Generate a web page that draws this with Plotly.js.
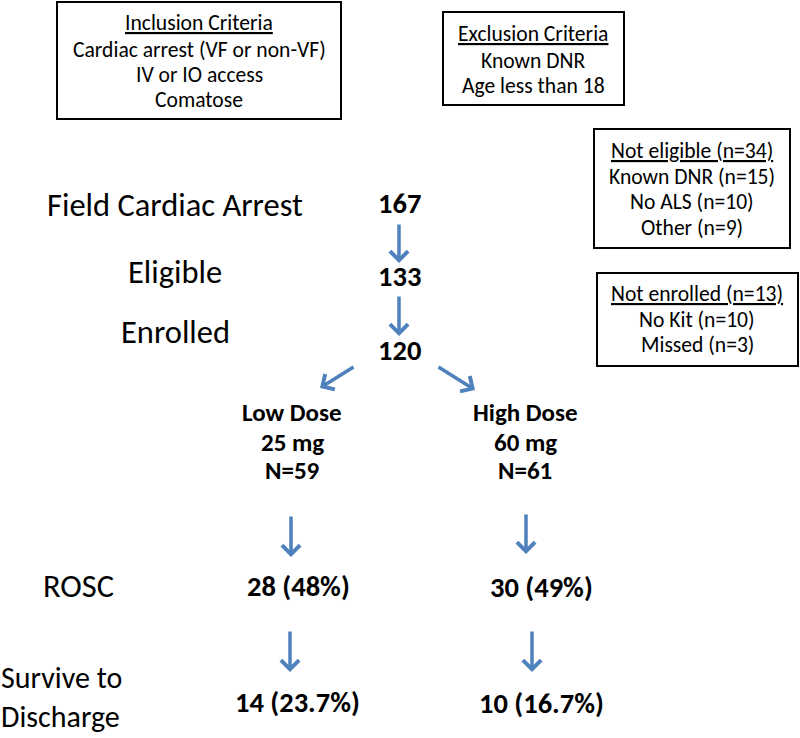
<!DOCTYPE html>
<html>
<head>
<meta charset="utf-8">
<script src="https://cdn.plot.ly/plotly-3.0.1.min.js"></script>
<style>html,body{margin:0;padding:0;background:#fff;}#chart{width:800px;height:738px;}</style>
</head>
<body>
<div id="chart"></div>
<script>
// ---------- data ----------
const inclusionTitle = "Inclusion Criteria";
const inclusionItems = ["Cardiac arrest (VF or non-VF)", "IV or IO access", "Comatose"];
const exclusionTitle = "Exclusion Criteria";
const exclusionItems = ["Known DNR", "Age less than 18"];
const notEligibleTotal = 34;
const notEligibleReasons = ["Known DNR", "No ALS", "Other"];
const notEligibleCounts = [15, 10, 9];
const notEnrolledTotal = 13;
const notEnrolledReasons = ["No Kit", "Missed"];
const notEnrolledCounts = [10, 3];
const stageLabels = ["Field Cardiac Arrest", "Eligible", "Enrolled"];
const stageCounts = [167, 133, 120];
const armNames = ["Low Dose", "High Dose"];
const armDoses = ["25 mg", "60 mg"];
const armN = [59, 61];
const outcomeLabels = ["ROSC", "Survive to<br>Discharge"];
const roscCounts = [28, 30];
const roscPct = ["48%", "49%"];
const survCounts = [14, 10];
const survPct = ["23.7%", "16.7%"];

// ---------- layout helpers ----------
const FONT = "Carlito, Calibri, Lato, 'Open Sans', sans-serif";
const BLUE = "#4F81BD";
const ann = [];
const shapes = [];
function txt(x, y, text, size, bold, opts) {
  ann.push(Object.assign({
    x: x, y: y, xref: "x", yref: "y", text: bold ? "<b>" + text + "</b>" : text,
    showarrow: false, xanchor: "center", yanchor: "middle", borderpad: 0,
    font: {family: FONT, size: size, color: "#000"}
  }, opts || {}));
}
function arrow(x0, y0, x1, y1) {
  ann.push({
    x: x1, y: y1, ax: x0, ay: y0, xref: "x", yref: "y", axref: "x", ayref: "y",
    text: "", showarrow: true, arrowhead: 4, arrowsize: 1, arrowwidth: 3.5, arrowcolor: BLUE
  });
}
function box(x0, y0, x1, y1) {
  shapes.push({type: "rect", xref: "x", yref: "y", x0: x0, y0: y0, x1: x1, y1: y1,
    line: {color: "#000", width: 2}, fillcolor: "rgba(0,0,0,0)"});
}

const BOX = 21.6, BIG = 32.5, NUM = 28.5, ARM = 25;

// inclusion box
box(57, 2, 341, 119);
txt(199, 22, "<u>" + inclusionTitle + "</u>", BOX);
inclusionItems.forEach((s, i) => txt(199, 49 + i * 25, s, BOX));
// exclusion box
box(443, 12, 624, 105);
txt(533, 33, "<u>" + exclusionTitle + "</u>", BOX);
exclusionItems.forEach((s, i) => txt(533, 60 + i * 25, s, BOX));
// not eligible
box(594, 129, 790, 248);
txt(692, 150, "<u>Not eligible (n=" + notEligibleTotal + ")</u>", BOX);
notEligibleReasons.forEach((s, i) => txt(692, 176 + i * 25.5, s + " (n=" + notEligibleCounts[i] + ")", BOX));
// not enrolled
box(597, 273, 798, 366);
txt(697, 293.5, "<u>Not enrolled (n=" + notEnrolledTotal + ")</u>", BOX);
notEnrolledReasons.forEach((s, i) => txt(697, 319 + i * 25.5, s + " (n=" + notEnrolledCounts[i] + ")", BOX));

// stages
const stageY = [205, 272, 332];
const countY = [203, 276, 350];
stageLabels.forEach((s, i) => {
  txt(175, stageY[i], s, BIG);
  txt(399, countY[i], String(stageCounts[i]), NUM, true);
});
arrow(399, 223, 399, 263);
arrow(399, 295, 399, 336);
arrow(355, 366, 320, 388);
arrow(437, 366, 475, 390);

// arms
const armX = [292, 525];
armNames.forEach((s, i) => {
  txt(armX[i], 412, s, ARM, true);
  txt(armX[i], 442, armDoses[i], ARM, true);
  txt(armX[i], 470, "N=" + armN[i], ARM, true);
});
arrow(291, 515, 291, 557);
arrow(526, 513, 526, 554);

// outcomes
txt(78, 586, outcomeLabels[0], BIG);
txt(298, 586, roscCounts[0] + " (" + roscPct[0] + ")", NUM, true);
txt(541, 587, roscCounts[1] + " (" + roscPct[1] + ")", NUM, true);
arrow(290, 630, 290, 672);
arrow(532, 630, 532, 672);
txt(0, 697, outcomeLabels[1], 30, false, {xanchor: "left", align: "left"});
txt(297, 702, survCounts[0] + " (" + survPct[0] + ")", NUM, true);
txt(541, 703, survCounts[1] + " (" + survPct[1] + ")", NUM, true);

const layout = {
  width: 800, height: 738,
  margin: {l: 0, r: 0, t: 0, b: 0},
  paper_bgcolor: "#fff", plot_bgcolor: "#fff",
  showlegend: false,
  xaxis: {range: [0, 800], visible: false, fixedrange: true},
  yaxis: {range: [738, 0], visible: false, fixedrange: true},
  annotations: ann, shapes: shapes
};
Plotly.newPlot("chart", [], layout, {staticPlot: true, displayModeBar: false});
</script>
</body>
</html>
